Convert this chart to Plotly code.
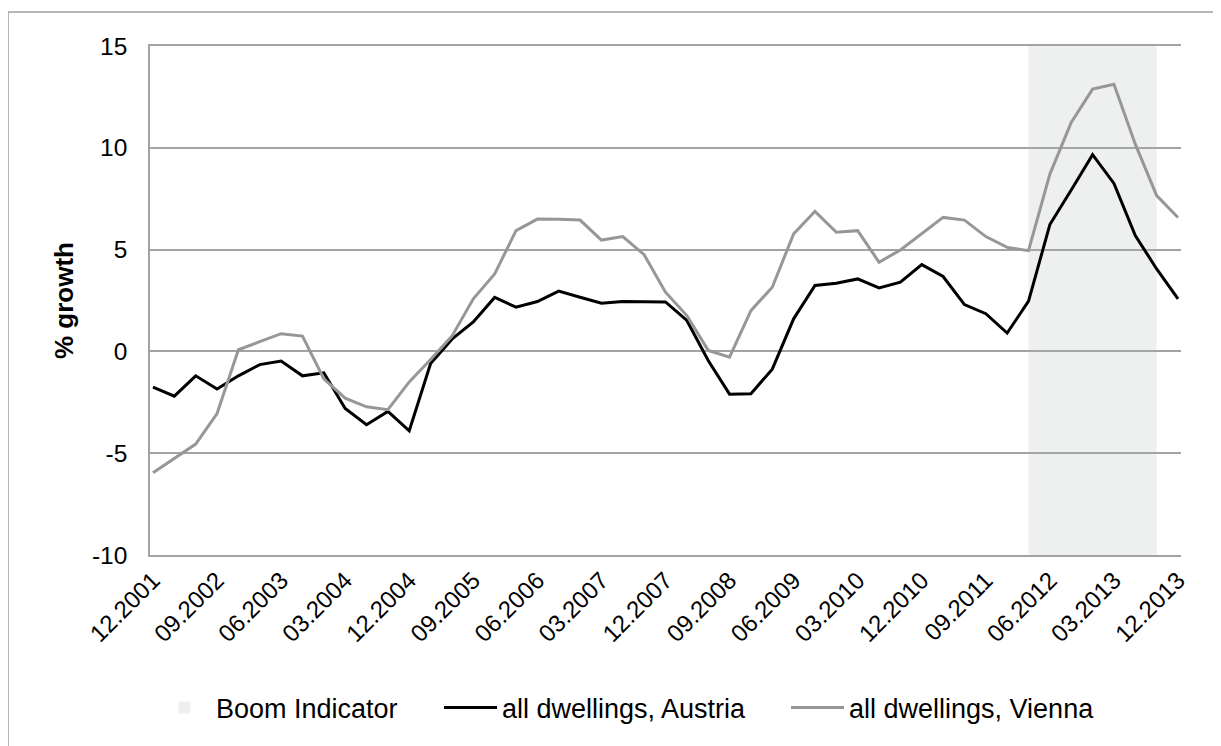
import plotly.graph_objects as go

quarters = [
    "12.2001", "03.2002", "06.2002", "09.2002", "12.2002", "03.2003", "06.2003", "09.2003",
    "12.2003", "03.2004", "06.2004", "09.2004", "12.2004", "03.2005", "06.2005", "09.2005",
    "12.2005", "03.2006", "06.2006", "09.2006", "12.2006", "03.2007", "06.2007", "09.2007",
    "12.2007", "03.2008", "06.2008", "09.2008", "12.2008", "03.2009", "06.2009", "09.2009",
    "12.2009", "03.2010", "06.2010", "09.2010", "12.2010", "03.2011", "06.2011", "09.2011",
    "12.2011", "03.2012", "06.2012", "09.2012", "12.2012", "03.2013", "06.2013", "09.2013",
    "12.2013",
]

austria = [
    -1.75, -2.2, -1.2, -1.85, -1.2, -0.65, -0.47, -1.2,
    -1.05, -2.8, -3.6, -2.95, -3.9, -0.6, 0.6, 1.45,
    2.65, 2.17, 2.45, 2.96, 2.66, 2.37, 2.45, 2.43,
    2.43, 1.52, -0.45, -2.1, -2.08, -0.87, 1.6, 3.24,
    3.35, 3.56, 3.12, 3.4, 4.26, 3.68, 2.3, 1.85,
    0.9, 2.47, 6.23, 7.93, 9.66, 8.25, 5.69, 4.05,
    2.58,
]

vienna = [
    -5.96, -5.25, -4.55, -3.05, 0.08, 0.48, 0.87, 0.75,
    -1.35, -2.3, -2.72, -2.86, -1.5, -0.4, 0.75, 2.58,
    3.8, 5.93, 6.5, 6.49, 6.45, 5.47, 5.64, 4.75,
    2.91, 1.76, 0.05, -0.28, 2.0, 3.15, 5.77, 6.88,
    5.85, 5.93, 4.38, 4.98, 5.8, 6.58, 6.45, 5.64,
    5.11, 4.95, 8.71, 11.24, 12.88, 13.12, 10.18, 7.65,
    6.58,
]

# 1 = boom quarter
boom = [0] * 41 + [1] * 6 + [0] * 2

tick_labels = quarters[::3]
y_ticks = [-10, -5, 0, 5, 10, 15]
y_tick_text = ["-10", "-5", "0", "5", "10", "15"]
y_min, y_max = -10, 15

FONT = "Liberation Sans, Arial, sans-serif"
GRID = "#A3A3A3"

W, H = 1213, 738
L, R, T, B = 142, 40, 38, 191
PW, PH = W - L - R, H - T - B

fig = go.Figure()

fig.add_trace(go.Bar(
    x=quarters,
    y=[(y_max - y_min) if b else 0 for b in boom],
    base=y_min,
    offset=0,
    width=1,
    marker=dict(color="rgba(170,180,175,0.2)", line=dict(width=0)),
    name="Boom Indicator",
    legend="legend",
    hoverinfo="skip",
))

fig.add_trace(go.Scatter(
    x=quarters, y=austria, mode="lines",
    line=dict(color="#000000", width=3),
    name="all dwellings, Austria",
    legend="legend2",
))

fig.add_trace(go.Scatter(
    x=quarters, y=vienna, mode="lines",
    line=dict(color="#979797", width=3),
    name="all dwellings, Vienna",
    legend="legend3",
))

legend_common = dict(
    orientation="h",
    yanchor="middle", y=(PH + T - 700) / PH,
    xanchor="left",
    font=dict(family=FONT, size=27, color="#000000"),
    itemwidth=53,
    bgcolor="rgba(0,0,0,0)",
    borderwidth=0,
)

fig.update_layout(
    width=W, height=H,
    margin=dict(l=L, r=R, t=T, b=B, autoexpand=False),
    paper_bgcolor="white",
    plot_bgcolor="white",
    font=dict(family=FONT, size=24, color="#000000"),
    showlegend=True,
    legend=dict(legend_common, x=3 / PW),
    legend2=dict(legend_common, x=289 / PW),
    legend3=dict(legend_common, x=636 / PW),
    xaxis=dict(
        type="category",
        range=[-0.14, 48.14],
        tickmode="array",
        tickvals=tick_labels,
        ticktext=tick_labels,
        tickangle=-45,
        tickfont=dict(family=FONT, size=24, color="#000000"),
        showgrid=False,
        showline=True, linecolor=GRID, linewidth=1.5, mirror=True,
        ticks="",
        zeroline=False,
    ),
    yaxis=dict(
        range=[y_min, y_max],
        tickmode="array",
        tickvals=y_ticks,
        ticktext=y_tick_text,
        tickfont=dict(family=FONT, size=24.5, color="#000000"),
        showgrid=True, gridcolor=GRID, gridwidth=1.5,
        showline=True, linecolor=GRID, linewidth=1.5,
        zeroline=False,
        ticks="",
        ticklabelstandoff=16,
        title=dict(text="<b>% growth</b>", font=dict(family=FONT, size=26, color="#000000"), standoff=11),
    ),
    shapes=[dict(
        type="rect", xref="paper", yref="paper",
        x0=(0 - L) / PW, y0=(PH + T - 4) / PH,
        x1=1.06, y1=-0.42,
        line=dict(color="#A0A0A0", width=1.5),
        fillcolor="rgba(0,0,0,0)",
        layer="below",
    )],
)

fig.write_html("out.html")
